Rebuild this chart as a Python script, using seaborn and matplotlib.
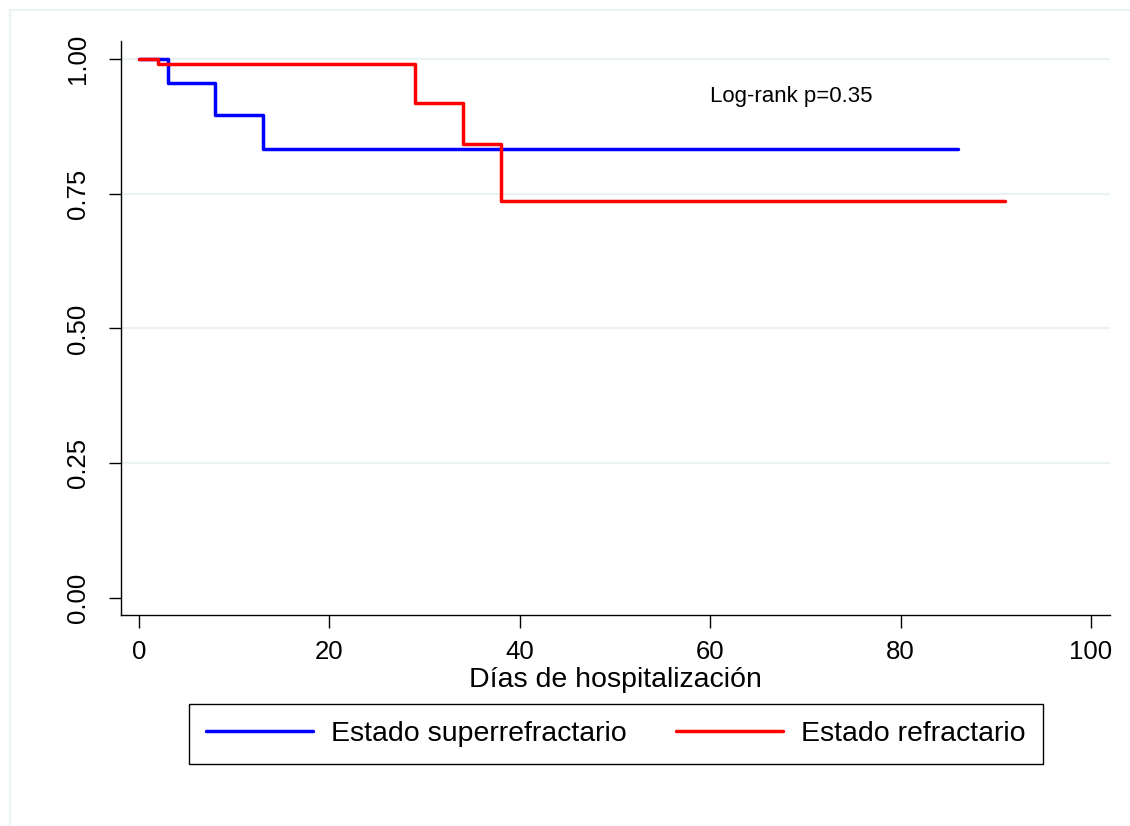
import pandas as pd
import matplotlib
matplotlib.use("Agg")
import matplotlib.pyplot as plt
import seaborn as sns
from matplotlib.patches import Rectangle

# Kaplan-Meier
dias_super = [0, 3, 8, 13, 86]
surv_super = [1.0, 0.955, 0.895, 0.833, 0.833]
dias_refr = [0, 2, 29, 34, 38, 91]
surv_refr = [1.0, 0.99, 0.918, 0.842, 0.737, 0.737]

grupos = ["Estado superrefractario", "Estado refractario"]
colores = ["#0000FF", "#FF0000"]
y_ticks = [0.0, 0.25, 0.5, 0.75, 1.0]
x_ticks = [0, 20, 40, 60, 80, 100]
texto_p = "Log-rank p=0.35"

df = pd.concat([
    pd.DataFrame({"dias": dias_super, "surv": surv_super, "grupo": grupos[0]}),
    pd.DataFrame({"dias": dias_refr, "surv": surv_refr, "grupo": grupos[1]}),
], ignore_index=True)

sns.set_theme(style="white")
plt.rcParams["font.family"] = ["Liberation Sans", "DejaVu Sans"]
plt.rcParams["text.color"] = "black"
plt.rcParams["axes.labelcolor"] = "black"

fig = plt.figure(figsize=(11.3, 8.26), dpi=100)
ax = fig.add_axes([121 / 1130, 1 - 615 / 826, (1110 - 121) / 1130, (615 - 41) / 826])

# marco exterior tenue
fig.patches.append(Rectangle((10 / 1130, -0.1), 1.2, (816 / 826) + 0.1,
                             transform=fig.transFigure, fill=False,
                             edgecolor="#EAF2F3", linewidth=1.5))

# líneas de rejilla (sin la de 0.00, como en Stata)
for v in y_ticks[1:]:
    ax.axhline(v, color="#EAF2F3", linewidth=1.6, zorder=0)

sns.lineplot(data=df, x="dias", y="surv", hue="grupo", hue_order=grupos,
             palette=dict(zip(grupos, colores)), drawstyle="steps-post",
             estimator=None, sort=False, linewidth=2.5, ax=ax)

ax.set_xlim(-1.9, 102)
ax.set_ylim(-0.0315, 1.033)
ax.set_xticks(x_ticks)
ax.set_yticks(y_ticks)
ax.set_yticklabels([f"{v:.2f}" for v in y_ticks], rotation=90, va="center")
ax.grid(False)

for s in ["top", "right"]:
    ax.spines[s].set_visible(False)
for s in ["left", "bottom"]:
    ax.spines[s].set_color("black")
    ax.spines[s].set_linewidth(1.0)

ax.tick_params(axis="both", which="major", direction="out", length=9, width=1.0,
               color="black", labelsize=18.5, labelcolor="black")
ax.tick_params(axis="y", pad=13)
ax.tick_params(axis="x", pad=9)
ax.tick_params(left=True, bottom=True)

ax.set_xlabel("Días de hospitalización", fontsize=20.5, labelpad=2)
ax.set_ylabel("")

ax.text(60, 0.93, texto_p, fontsize=16, ha="left", va="center", color="black")

ax.get_legend().remove()
handles, labels = ax.get_legend_handles_labels()
leg = fig.legend(handles, labels, loc="center", bbox_to_anchor=(616 / 1130, 1 - 734 / 826),
                 ncol=2, fontsize=20.5, frameon=True, fancybox=False, edgecolor="black",
                 framealpha=1, handlelength=3.75, handletextpad=0.63, columnspacing=1.75,
                 borderpad=0.6)
leg.get_frame().set_linewidth(1.0)

fig.savefig("out.png", dpi=100)
